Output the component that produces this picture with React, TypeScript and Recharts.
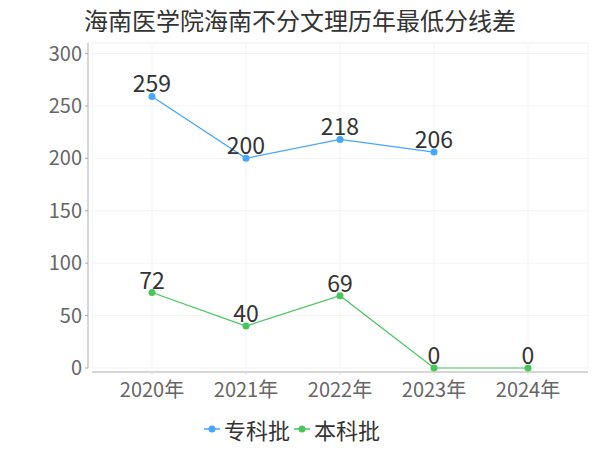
import { LineChart, Line, XAxis, YAxis, CartesianGrid, Legend, LabelList, ReferenceLine } from "recharts";

const years = ["2020年", "2021年", "2022年", "2023年", "2024年"];
const zhuanke = [259, 200, 218, 206, null];
const benke = [72, 40, 69, 0, 0];
const yTicks = [0, 50, 100, 150, 200, 250, 300];

const BLUE = "#45a5ff";
const GREEN = "#47c65a";
const FONT = "'Noto Sans CJK SC', 'Noto Sans', sans-serif";

const data = years.map((year, i) => ({ year, zhuanke: zhuanke[i], benke: benke[i] }));

function LegendIcon({ color }: { color: string }) {
    return (
        <svg width={16} height={10} style={{ marginRight: 4 }}>
            <line x1={0} y1={5} x2={16} y2={5} stroke={color} strokeWidth={1.5} />
            <circle cx={8} cy={5} r={3.5} fill={color} />
        </svg>
    );
}

function ChartLegend() {
    const items = [
        { name: "专科批", color: BLUE },
        { name: "本科批", color: GREEN },
    ];
    return (
        <div style={{ height: 30, display: "flex", justifyContent: "center", alignItems: "center", fontFamily: FONT, fontSize: 22, color: "#333" }}>
            {items.map(item => (
                <span key={item.name} style={{ display: "inline-flex", alignItems: "center", marginRight: 4 }}>
                    <LegendIcon color={item.color} />
                    {item.name}
                </span>
            ))}
        </div>
    );
}

export default function App() {
    return (
        <div style={{ position: "absolute", left: 0, top: 0, width: 600, height: 450, background: "#fff" }}>
            <div style={{ position: "absolute", left: 0, top: 4, width: 600, textAlign: "center", fontFamily: FONT, fontSize: 24, color: "#333", lineHeight: "32px", zIndex: 1 }}>
                海南医学院海南不分文理历年最低分线差
            </div>
            <LineChart width={600} height={450} data={data} margin={{ top: 43, right: 12, bottom: 6, left: 0 }}>
                <CartesianGrid stroke="#f3f3f3" />
                <ReferenceLine y={310} stroke="#f3f3f3" />
                <XAxis
                    dataKey="year"
                    height={46}
                    padding={{ left: 60, right: 60 }}
                    axisLine={{ stroke: "#c8c8c8", strokeWidth: 1.5, transform: "translate(0,4)" }}
                    tickLine={{ stroke: "#ddd", transform: "translate(0,4)" }}
                    tickSize={3}
                    tickMargin={12}
                    tick={{ fill: "#666", fontSize: 20, fontFamily: FONT }}
                />
                <YAxis
                    width={92}
                    domain={[0, 310]}
                    ticks={yTicks}
                    interval={0}
                    axisLine={{ stroke: "#c8c8c8", strokeWidth: 1.5, transform: "translate(-4,0)" }}
                    tickLine={{ stroke: "#aaa", transform: "translate(-4,0)" }}
                    tickSize={3}
                    tickMargin={7}
                    tick={{ fill: "#666", fontSize: 20, fontFamily: FONT }}
                />
                <Legend verticalAlign="bottom" content={() => <ChartLegend />} />
                <Line dataKey="zhuanke" name="专科批" stroke={BLUE} strokeWidth={1.2} dot={{ r: 3.5, fill: BLUE, stroke: BLUE, strokeWidth: 0 }} isAnimationActive={false}>
                    <LabelList dataKey="zhuanke" position="top" offset={4} fill="#333" fontSize={23} fontFamily={FONT} />
                </Line>
                <Line dataKey="benke" name="本科批" stroke={GREEN} strokeWidth={1.2} dot={{ r: 3.5, fill: GREEN, stroke: GREEN, strokeWidth: 0 }} isAnimationActive={false}>
                    <LabelList dataKey="benke" position="top" offset={4} fill="#333" fontSize={23} fontFamily={FONT} />
                </Line>
            </LineChart>
        </div>
    );
}
